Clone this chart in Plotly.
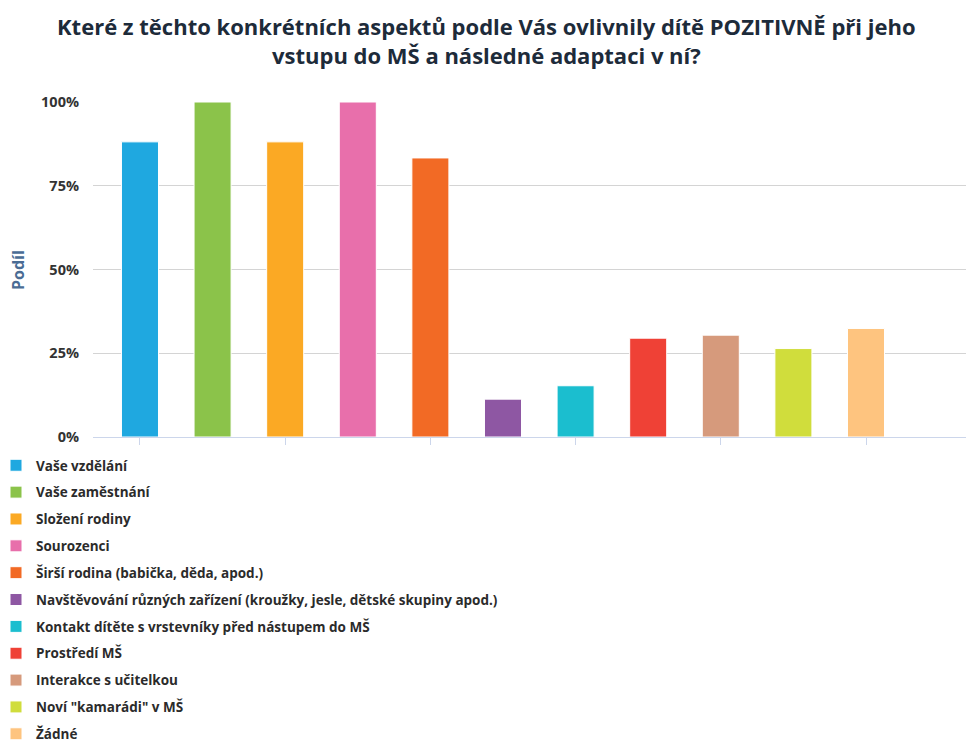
import plotly.graph_objects as go

categories = [
    "Vaše vzdělání",
    "Vaše zaměstnání",
    "Složení rodiny",
    "Sourozenci",
    "Širší rodina (babička, děda, apod.)",
    "Navštěvování různých zařízení (kroužky, jesle, dětské skupiny apod.)",
    "Kontakt dítěte s vrstevníky před nástupem do MŠ",
    "Prostředí MŠ",
    "Interakce s učitelkou",
    "Noví \"kamarádi\" v MŠ",
    "Žádné",
]
values = [0.881, 1.0, 0.881, 1.0, 0.833, 0.113, 0.153, 0.295, 0.304, 0.264, 0.324]
colors = ["#1fa8e0", "#8bc34a", "#fba924", "#e86fab", "#f26a25", "#8e57a3",
          "#1bbecf", "#ef4136", "#d69a7c", "#d0dd3c", "#fec47f"]
y_ticks = [0, 0.25, 0.5, 0.75, 1.0]
y_tick_labels = ["0%", "25%", "50%", "75%", "100%"]
title_lines = [
    "Které z těchto konkrétních aspektů podle Vás ovlivnily dítě POZITIVNĚ při jeho",
    "vstupu do MŠ a následné adaptaci v ní?",
]
y_title = "Podíl"

FONT = "Open Sans"
W, H = 966, 736  # page body has an 8px margin
ML, MT, MB, MR = 85, 94, 307, 2
PW, PH = W - ML - MR, H - MT - MB

fig = go.Figure()
for i, (name, v, c) in enumerate(zip(categories, values, colors)):
    fig.add_trace(go.Bar(
        x=[i], y=[v], name=name, width=0.51,
        marker=dict(color=c, line=dict(color="white", width=1)),
        legendgroup=f"g{i}",
        hovertemplate=f"{name}: %{{y:.0%}}<extra></extra>",
    ))

fig.update_layout(
    width=W, height=H,
    margin=dict(l=ML, r=MR, t=MT, b=MB, autoexpand=False),
    paper_bgcolor="white", plot_bgcolor="white",
    font=dict(family=FONT, color="#333333"),
    barmode="overlay",
    showlegend=True,
    legend=dict(
        x=(-12 - ML) / PW, xanchor="left", y=(PH + MT - 442) / PH, yanchor="top",
        orientation="v", tracegroupgap=6.3,
        font=dict(family=FONT, size=13.5, color="#2b2b2b", weight="bold"),
        itemwidth=30,
    ),
    annotations=[
        dict(text=f"<b>{title_lines[0]}</b>", x=0.448, y=(PH + 76) / PH, xref="paper", yref="paper",
             showarrow=False, xanchor="center", yanchor="middle",
             font=dict(family=FONT, size=22, color="#1d2b3a")),
        dict(text=f"<b>{title_lines[1]}</b>", x=0.448, y=(PH + 47) / PH, xref="paper", yref="paper",
             showarrow=False, xanchor="center", yanchor="middle",
             font=dict(family=FONT, size=22, color="#1d2b3a")),
        dict(text=f"<b>{y_title}</b>", x=(10 - ML) / PW, y=(PH + MT - 262) / PH,
             xref="paper", yref="paper", textangle=-90,
             showarrow=False, xanchor="center", yanchor="middle",
             font=dict(family=FONT, size=16, color="#4a6c94")),
    ],
)

fig.update_xaxes(
    range=[-0.647, 11.46],
    tickvals=[0, 2, 4, 6, 8, 10], ticktext=[""] * 6,
    ticks="outside", ticklen=7, tickcolor="#ccd6eb", tickwidth=1,
    showticklabels=False,
    showgrid=False, zeroline=False,
    showline=True, linecolor="#ccd6eb", linewidth=1,
)
fig.update_yaxes(
    range=[0, 1.0],
    tickvals=y_ticks, ticktext=y_tick_labels,
    ticks="", ticklabelstandoff=13,
    tickfont=dict(family=FONT, size=14.5, color="#333333", weight="bold"),
    showgrid=True, gridcolor="#d4d4d4", gridwidth=1,
    zeroline=False, showline=False,
)

fig.write_html("out.html")
